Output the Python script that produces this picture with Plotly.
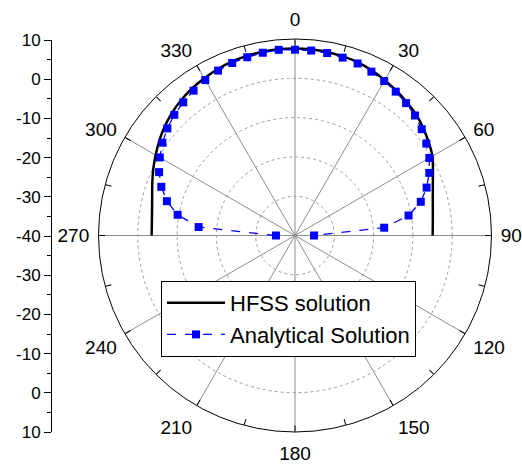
import plotly.graph_objects as go

# ---- data (dB) ----
angles_deg = [270, 275, 280, 285, 290, 295, 300, 305, 310, 315, 320, 325, 330, 335, 340, 345, 350, 355,
              0, 5, 10, 15, 20, 25, 30, 35, 40, 45, 50, 55, 60, 65, 70, 75, 80, 85, 90]

hfss_db = [-3.52, -3.44, -3.06, -2.37, -1.35, -0.20, 0.94, 2.14, 3.24, 4.21, 5.03, 5.66, 6.17, 6.68, 7.07, 7.32, 7.50, 7.60,
           7.58, 7.53, 7.42, 7.17, 6.86, 6.30, 5.66, 4.97, 4.26, 3.57, 2.60, 1.48, 0.38, -1.28, -2.68, -3.70, -4.39, -4.80, -4.97]

analytical_db = [-35.15, -15.38, -9.67, -6.25, -3.80, -1.84, -0.28, 1.17, 2.40, 3.42, 4.23, 5.00, 5.66, 6.30, 6.73, 6.96, 7.22, 7.42,
                 7.27, 7.24, 7.14, 6.86, 6.58, 6.00, 5.38, 4.69, 3.98, 3.19, 2.09, 0.79, -0.54, -2.30, -4.36, -6.86, -10.66, -17.22, -35.15]

angular_major = [0, 30, 60, 90, 120, 150, 180, 210, 240, 270, 300, 330]
angular_all = [0, 15, 30, 45, 60, 75, 90, 105, 120, 135, 150, 165, 180,
               195, 210, 225, 240, 255, 270, 285, 300, 315, 330, 345]
radial_ticks = [-30, -20, -10, 0, 10]

left_axis_vals = [-50, -40, -30, -20, -10, 0, 10, 20, 30, 40, 50]
left_axis_text = ["10", "0", "-10", "-20", "-30", "-40", "-30", "-20", "-10", "0", "10"]

FONT = "Liberation Sans, Arial, sans-serif"
W, H = 522, 468
cx, cy, R = 295, 235.5, 196.5

dom_x = [(cx - R) / W, (cx + R) / W]
dom_y = [1 - (cy + R) / H, 1 - (cy - R) / H]

fig = go.Figure()

fig.add_trace(go.Scatterpolar(
    r=hfss_db, theta=angles_deg, mode="lines", name="HFSS solution",
    line=dict(color="black", width=2.5, shape="spline"), subplot="polar"))

fig.add_trace(go.Scatterpolar(
    r=analytical_db, theta=angles_deg, mode="lines+markers", name="Analytical Solution",
    line=dict(color="#0000FF", width=1.3, dash="dash"),
    marker=dict(symbol="square", size=8, color="#0000FF"), subplot="polar"))

# dummy trace to show the left cartesian axis
fig.add_trace(go.Scatter(x=[0], y=[0], mode="markers", marker=dict(opacity=0),
                         showlegend=False, hoverinfo="skip", xaxis="x", yaxis="y"))

fig.update_layout(
    width=W, height=H,
    margin=dict(l=0, r=0, t=0, b=0, autoexpand=False),
    paper_bgcolor="white", plot_bgcolor="rgba(0,0,0,0)",
    font=dict(family=FONT, size=18, color="black"),
    polar=dict(
        domain=dict(x=dom_x, y=dom_y),
        bgcolor="white",
        angularaxis=dict(
            rotation=90, direction="clockwise",
            tickmode="array", tickvals=angular_major,
            ticktext=[str(a) for a in angular_major],
            ticks="outside", ticklen=5, tickcolor="rgba(0,0,0,0)",
            showline=True, linecolor="black", linewidth=1,
            showgrid=True, gridcolor="#8c8c8c", gridwidth=1,
            tickfont=dict(family=FONT, size=19, color="black"),
        ),
        radialaxis=dict(
            range=[-40, 10], tickmode="array", tickvals=radial_ticks,
            showticklabels=False, ticks="", showline=False,
            showgrid=True, gridcolor="#9a9a9a", gridwidth=1, griddash="dot",
        ),
    ),
    polar2=dict(
        domain=dict(x=dom_x, y=dom_y),
        bgcolor="rgba(0,0,0,0)",
        angularaxis=dict(
            rotation=90, direction="clockwise",
            tickmode="array", tickvals=angular_all,
            ticktext=["" for _ in angular_all],
            ticks="inside", ticklen=6, tickcolor="black",
            showline=False, showgrid=False, showticklabels=False,
        ),
        radialaxis=dict(range=[-40, 10], visible=False, showgrid=False),
    ),
    xaxis=dict(domain=[52 / W, 0.6], visible=False, range=[1, 2], fixedrange=True),
    yaxis=dict(
        domain=[1 - 432 / H, 1 - 40 / H], range=[-50, 50], anchor="x",
        tickmode="array", tickvals=left_axis_vals, ticktext=left_axis_text,
        ticks="outside", ticklen=7, tickcolor="black", tickwidth=1,
        showline=True, linecolor="black", linewidth=1,
        showgrid=False, zeroline=False, automargin=False,
        minor=dict(dtick=5, tick0=0, ticks="outside", ticklen=4, tickcolor="black", showgrid=False),
        tickfont=dict(family=FONT, size=17, color="black"),
    ),
    showlegend=True,
    legend=dict(
        x=161 / W, y=1 - 281 / H, xanchor="left", yanchor="top",
        bgcolor="white", bordercolor="black", borderwidth=1,
        font=dict(family=FONT, size=22, color="black"),
        tracegroupgap=0, itemwidth=58,
    ),
)

# second polar needs a trace to be drawn
fig.add_trace(go.Scatterpolar(r=[None], theta=[0], subplot="polar2", showlegend=False,
                              hoverinfo="skip", mode="markers"))

fig.write_html(
    "out.html",
    config={"displayModeBar": False},
    post_script="document.body.style.margin='0px';document.documentElement.style.overflow='hidden';",
)
